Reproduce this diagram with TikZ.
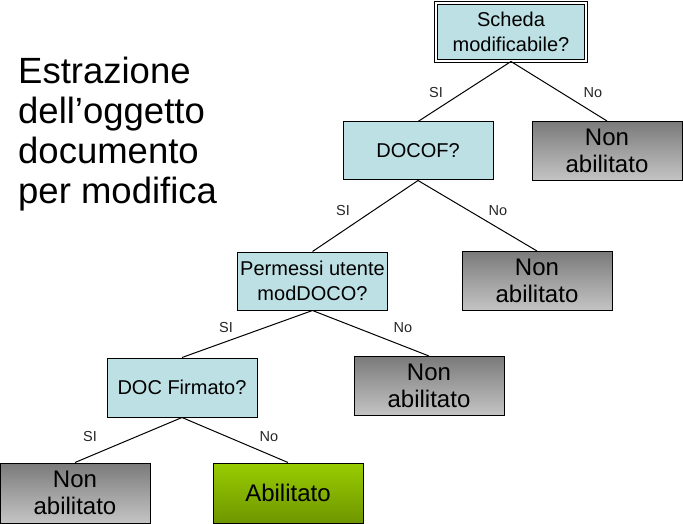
\documentclass[tikz,border=0pt]{standalone}
\usepackage{fontspec}
\setmainfont{Liberation Sans}
\begin{document}
\begin{tikzpicture}[x=1pt,y=-1pt,
  q/.style={draw=black, line width=1pt, fill=qfill, inner sep=0pt, align=center, minimum width=150, minimum height=58, font=\fontsize{20}{25}\selectfont},
  na/.style={draw=black, line width=1pt, top color=naTop, bottom color=naBot, middle color=naMid, inner sep=0pt, align=center, minimum width=150, minimum height=59, font=\fontsize{24}{27}\selectfont},
  ok/.style={draw=black, line width=1pt, top color=okTop, bottom color=okBot, inner sep=0pt, align=center, minimum width=150, minimum height=60, font=\fontsize{24}{27}\selectfont},
  edge/.style={line width=1pt, black},
  lab/.style={font=\fontsize{14.5}{16}\selectfont, text=black!85}
]
\definecolor{qfill}{RGB}{189,224,228}
\definecolor{naTop}{RGB}{122,122,122}
\definecolor{naMid}{RGB}{160,160,160}
\definecolor{naBot}{RGB}{196,196,196}
\definecolor{okTop}{RGB}{153,204,0}
\definecolor{okBot}{RGB}{110,150,0}
\useasboundingbox (0,0) rectangle (683,524);
\fill[white] (0,0) rectangle (683,524);

% title
\node[anchor=north west, align=left, font=\fontsize{36.5}{40}\selectfont, inner sep=0pt] (title) at (18,57) {Estrazione\\dell’oggetto\\documento\\per modifica};

% boxes
\node[q, minimum width=150, minimum height=58, double, double distance=2pt] (s) at (511,32) {Scheda\\modificabile?};
\node[q] (d) at (418,151) {DOCOF?};
\node[na] (n1) at (607,151) {Non\\abilitato};
\node[q] (p) at (312.5,281) {Permessi utente\\modDOCO?};
\node[na] (n2) at (537,281) {Non\\abilitato};
\node[q, minimum height=59] (f) at (182,387.5) {DOC Firmato?};
\node[na] (n3) at (429,386) {Non\\abilitato};
\node[na, minimum height=60] (n4) at (75,493) {Non\\abilitato};
\node[ok] (a) at (288,493) {Abilitato};

% edges
\draw[edge] (s.south) -- (d.north);
\draw[edge] (s.south) -- (n1.north);
\draw[edge] (d.south) -- (p.north);
\draw[edge] (d.south) -- (n2.north);
\draw[edge] (p.south) -- (f.north);
\draw[edge] (p.south) -- (n3.north);
\draw[edge] (f.south) -- (n4.north);
\draw[edge] (f.south) -- (a.north);

% labels
\node[lab] (l1) at (436,93) {SI};
\node[lab] (l2) at (593,93) {No};
\node[lab] (l3) at (343,211) {SI};
\node[lab] (l4) at (498,211) {No};
\node[lab] (l5) at (226,328) {SI};
\node[lab] (l6) at (403,328) {No};
\node[lab] (l7) at (90,437) {SI};
\node[lab] (l8) at (269,437) {No};
\end{tikzpicture}
\end{document}
